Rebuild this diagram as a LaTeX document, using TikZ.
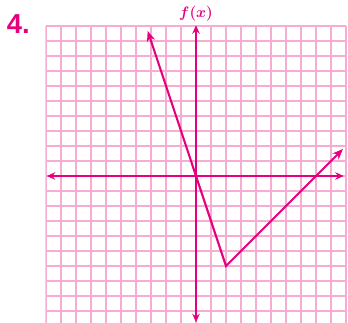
\documentclass[tikz,border=0pt]{standalone}
\usepackage{tikz}
\usepackage{fontspec}
\usetikzlibrary{arrows.meta}
\newfontfamily\labelfont{Liberation Sans}
\definecolor{magenta}{RGB}{230,0,126}
\definecolor{gridpink}{RGB}{247,172,210}

\begin{document}
\begin{tikzpicture}[x=0.5cm,y=0.5cm,
  axis/.style={draw=magenta,line width=1.4pt,{Stealth[length=8pt,width=7pt]}-{Stealth[length=8pt,width=7pt]}},
  graph/.style={draw=magenta,line width=2pt,line join=miter,{Stealth[length=10pt,width=8pt]}-{Stealth[length=10pt,width=8pt]}}]
%set diagram to 348x323 with origin at the axes crossing
\useasboundingbox (-13.067,-9.8) rectangle (10.133,11.733);

%Grid
\begin{scope}
\clip (-10.05,-9.8) rectangle (10.05,10.05);
\draw [color=gridpink,line width=1pt,step=0.5cm] (-10,-11) grid (10,10);
\end{scope}

%Axes
\coordinate (xl) at (-9.95,0);
\coordinate (xr) at (9.85,0);
\coordinate (yb) at (0,-9.75);
\coordinate (yt) at (0,10.05);
\draw [axis] (xl) -- (xr);
\draw [axis] (yb) -- (yt);

%Graph
\coordinate (vtx) at (2,-6);
\coordinate (tipl) at (-3.22,9.67);
\coordinate (tipr) at (9.8,1.8);
\draw [graph] (tipl) -- (vtx) -- (tipr);

% Text Node
\node (num) at (-11.85,10.15) [text=magenta,font=\labelfont\bfseries\fontsize{26}{28}\selectfont] {4.};
% Text Node
\node (fx) [above=0pt] at (yt) [text=magenta,font=\boldmath\Large] {$f(x)$};

\end{tikzpicture}
\end{document}
